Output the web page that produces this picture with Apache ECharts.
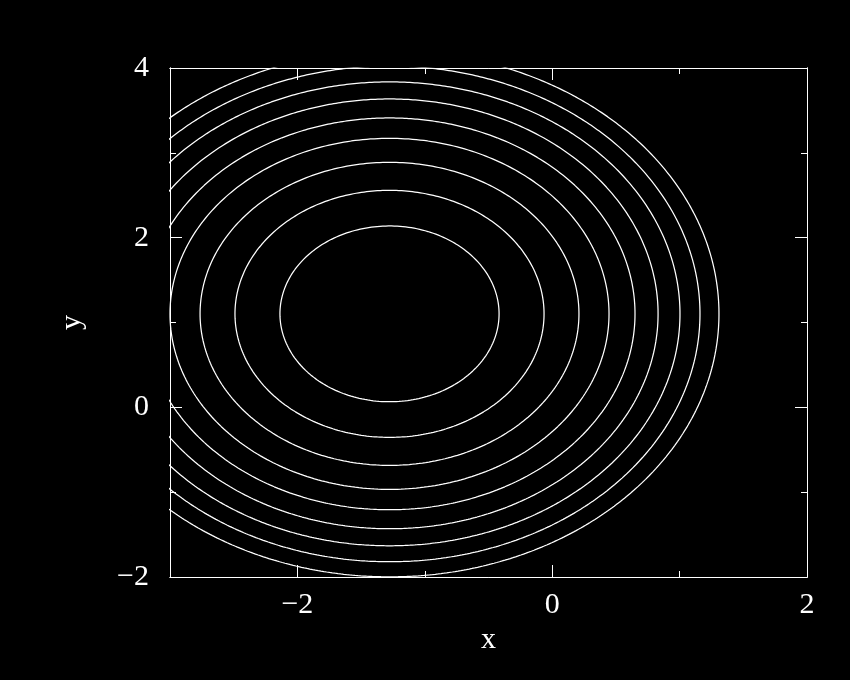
<!DOCTYPE html>
<html><head><meta charset="utf-8">
<script src="https://cdn.jsdelivr.net/npm/echarts@6/dist/echarts.min.js"></script>
<style>html,body{margin:0;padding:0;background:#000}#c{width:850px;height:680px}</style>
</head><body><div id="c"></div>
<script>
// Axis tick values
const xTickLabels = [-2, 0, 2];
const xMinorTicks = [-1, 1];
const yTickLabels = [-2, 0, 2, 4];
const yMinorTicks = [-1, 1, 3];
// Contours (ellipses): common centre, semi-axes per level
const contourCenterX = -1.277;
const contourCenterY = 1.102;
const contourRadiusX = [0.860, 1.213, 1.487, 1.723, 1.927, 2.108, 2.280, 2.437, 2.586];
const contourRadiusY = [1.036, 1.456, 1.786, 2.069, 2.309, 2.533, 2.734, 2.922, 3.100];

const FONT = '"Liberation Serif", "DejaVu Serif", serif';
const fmt = v => (v < 0 ? '\u2212' + Math.abs(v) : String(v));

function contourPath(rx, ry) {
  const pts = [];
  const n = 720;
  for (let i = 0; i <= n; i++) {
    const t = (i / n) * 2 * Math.PI;
    pts.push([contourCenterX + rx * Math.cos(t), contourCenterY + ry * Math.sin(t)]);
  }
  return pts;
}

function makeAxis(kind, position, ticks, len, labels, extra) {
  const ax = {
    type: 'value', position: position,
    min: kind === 'x' ? -3 : -2, max: kind === 'x' ? 2 : 4,
    axisLine: { show: true, onZero: false, lineStyle: { color: '#fff', width: 1 } },
    axisTick: { show: true, inside: true, length: len, customValues: ticks, lineStyle: { color: '#fff', width: 1 } },
    axisLabel: labels ? { show: true, customValues: labels, formatter: fmt, color: '#fff', fontFamily: FONT, fontSize: 30, margin: 13 } : { show: false },
    splitLine: { show: false }, minorTick: { show: false }
  };
  return Object.assign(ax, extra || {});
}

const xAxes = [
  makeAxis('x', 'bottom', xTickLabels, 12, xTickLabels, {
    name: 'x', nameLocation: 'middle', nameGap: 47,
    nameTextStyle: { color: '#fff', fontFamily: FONT, fontSize: 30 }
  }),
  makeAxis('x', 'bottom', xMinorTicks, 6, null),
  makeAxis('x', 'top', xTickLabels, 12, null),
  makeAxis('x', 'top', xMinorTicks, 6, null)
];
const yAxes = [
  makeAxis('y', 'left', yTickLabels, 12, yTickLabels, {
    name: 'y', nameLocation: 'middle', nameGap: 83, nameRotate: 90,
    nameTextStyle: { color: '#fff', fontFamily: FONT, fontSize: 30 }
  }),
  makeAxis('y', 'left', yMinorTicks, 6, null),
  makeAxis('y', 'right', yTickLabels, 12, null),
  makeAxis('y', 'right', yMinorTicks, 6, null)
];
yAxes[0].axisLabel.margin = 21;

const series = contourRadiusX.map((rx, i) => ({
  type: 'line', xAxisIndex: 0, yAxisIndex: 0,
  data: contourPath(rx, contourRadiusY[i]),
  showSymbol: false, symbol: 'none', smooth: false, clip: true,
  lineStyle: { color: '#fff', width: 1.25 }, silent: true, animation: false
}));

const chart = echarts.init(document.getElementById('c'), null, { renderer: 'canvas' });
chart.setOption({
  backgroundColor: '#000',
  animation: false,
  grid: { left: 170, top: 68, right: 43, bottom: 103, containLabel: false },
  xAxis: xAxes,
  yAxis: yAxes,
  series: series
});
</script></body></html>
